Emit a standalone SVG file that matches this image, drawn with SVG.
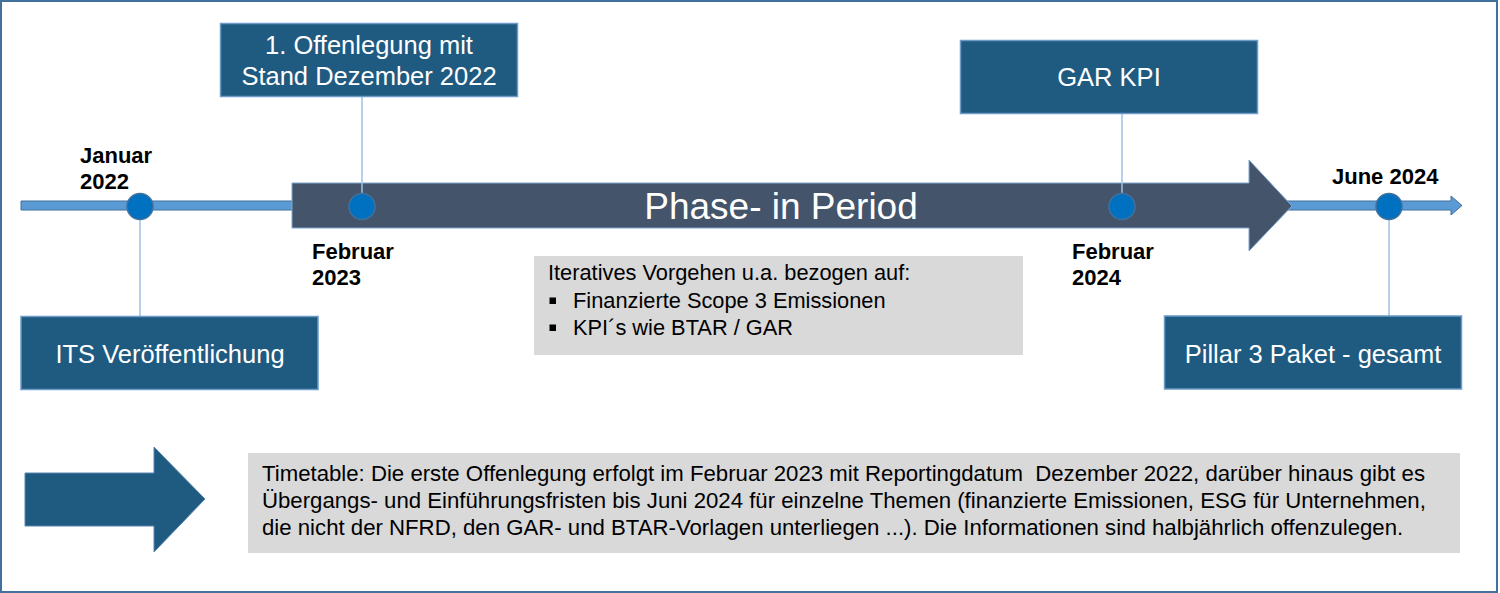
<svg xmlns="http://www.w3.org/2000/svg" width="1500" height="593" viewBox="0 0 1500 593">
<style>
.box{fill:#1F5A80;stroke:#6C9BC8;stroke-width:1.5}
.bt{font-family:"Liberation Sans",Arial,sans-serif;font-size:25.5px;fill:#FFFFFF;text-anchor:middle}
.date{font-family:"Liberation Sans",Arial,sans-serif;font-size:22px;font-weight:bold;fill:#000000}
.dot{fill:#0070C0;stroke:#41719C;stroke-width:1.5}
.conn{stroke:#9DC3E6;stroke-width:1.5;fill:none}
.gray{fill:#D9D9D9}
.gt{font-family:"Liberation Sans",Arial,sans-serif;font-size:21.8px;fill:#000000}
.tt{font-family:"Liberation Sans",Arial,sans-serif;font-size:22.2px;fill:#000000}
</style>
<rect x="0" y="0" width="1500" height="593" fill="#FFFFFF"/>
<rect x="1" y="1" width="1496" height="591" fill="none" stroke="#41719C" stroke-width="2"/>
<g id="timeline">
<polygon points="21,201 1451,201 1451,196 1462,205.5 1451,215 1451,210 21,210" fill="#5B9BD5" stroke="#41719C" stroke-width="1"/>
</g>
<g id="phase-arrow">
<polygon points="292,183 1249,183 1249,160 1292,206 1249,251 1249,228 292,228" fill="#44546A" stroke="#7FA7D0" stroke-width="1"/>
<text x="781" y="219" style="font-family:'Liberation Sans',Arial,sans-serif;font-size:37px;fill:#FFFFFF;text-anchor:middle">Phase- in Period</text>
</g>
<g id="connectors">
<line class="conn" x1="140" y1="220" x2="140" y2="317"/>
<line class="conn" x1="362" y1="97" x2="362" y2="193"/>
<line class="conn" x1="1122" y1="113" x2="1122" y2="193"/>
<line class="conn" x1="1389" y1="219" x2="1389" y2="316"/>
</g>
<g id="m-jan2022">
<circle class="dot" cx="140" cy="206.5" r="13"/>
<text class="date" x="80" y="162.5">Januar</text>
<text class="date" x="80" y="189">2022</text>
</g>
<g id="m-feb2023">
<circle class="dot" cx="362" cy="206.5" r="13"/>
<text class="date" x="312" y="259">Februar</text>
<text class="date" x="312" y="285">2023</text>
</g>
<g id="m-feb2024">
<circle class="dot" cx="1122" cy="206.5" r="13"/>
<text class="date" x="1072" y="259">Februar</text>
<text class="date" x="1072" y="285">2024</text>
</g>
<g id="m-jun2024">
<circle class="dot" cx="1389" cy="206.5" r="13"/>
<text class="date" x="1332" y="184">June 2024</text>
</g>
<g id="n-offenlegung">
<rect class="box" x="220.5" y="23.5" width="297" height="73"/>
<text class="bt" x="369" y="53.5">1. Offenlegung mit</text>
<text class="bt" x="369" y="85">Stand Dezember 2022</text>
</g>
<g id="n-gar">
<rect class="box" x="960.5" y="40.5" width="297" height="73"/>
<text class="bt" x="1109" y="86">GAR KPI</text>
</g>
<g id="n-its">
<rect class="box" x="21" y="316.5" width="297" height="73"/>
<text class="bt" x="170" y="362.5">ITS Veröffentlichung</text>
</g>
<g id="n-pillar">
<rect class="box" x="1164.5" y="316" width="297" height="73"/>
<text class="bt" x="1313" y="362.5">Pillar 3 Paket - gesamt</text>
</g>
<g id="n-iterativ">
<rect class="gray" x="534" y="256" width="489" height="99"/>
<text class="gt" x="548" y="280">Iteratives Vorgehen u.a. bezogen auf:</text>
<rect x="549.5" y="297.5" width="6.5" height="6.5" fill="#000000"/>
<text class="gt" x="573" y="308">Finanzierte Scope 3 Emissionen</text>
<rect x="549.5" y="324.5" width="6.5" height="6.5" fill="#000000"/>
<text class="gt" x="573" y="335">KPI´s wie BTAR / GAR</text>
</g>
<g id="n-arrow">
<polygon points="25,473 154,473 154,447 205,499 154,552 154,526 25,526" fill="#1F5A80" stroke="#5A86B0" stroke-width="1"/>
</g>
<g id="n-timetable">
<rect class="gray" x="248" y="453" width="1212" height="100"/>
<text class="tt" x="262" y="481" xml:space="preserve">Timetable: Die erste Offenlegung erfolgt im Februar 2023 mit Reportingdatum  Dezember 2022, darüber hinaus gibt es</text>
<text class="tt" x="262" y="508">Übergangs- und Einführungsfristen bis Juni 2024 für einzelne Themen (finanzierte Emissionen, ESG für Unternehmen,</text>
<text class="tt" x="262" y="535">die nicht der NFRD, den GAR- und BTAR-Vorlagen unterliegen ...). Die Informationen sind halbjährlich offenzulegen.</text>
</g>
</svg>
